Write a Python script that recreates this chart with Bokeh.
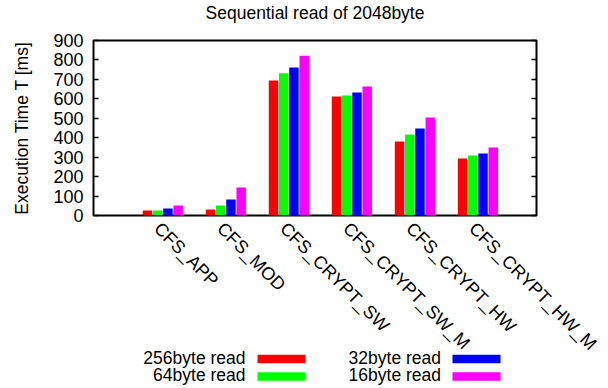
import math
from bokeh.plotting import figure
from bokeh.models import (Range1d, FixedTicker, LinearAxis, CustomJSTickFormatter,
                          ColumnDataSource)
from bokeh.core.properties import value
from bokeh.embed import file_html
from bokeh.resources import INLINE

# ---- data ----
categories = ["CFS_APP", "CFS_MOD", "CFS_CRYPT_SW", "CFS_CRYPT_SW_M", "CFS_CRYPT_HW", "CFS_CRYPT_HW_M"]
series_names = ["256byte read", "64byte read", "32byte read", "16byte read"]
read_256 = [26, 31, 694, 612, 381, 293]
read_64 = [26, 51, 732, 617, 417, 309]
read_32 = [36, 82, 761, 633, 447, 319]
read_16 = [51, 144, 822, 663, 504, 350]
series_values = [read_256, read_64, read_32, read_16]
colors = ["#ff0000", "#00ff00", "#0000ff", "#ff00ff"]
y_ticks = [0, 100, 200, 300, 400, 500, 600, 700, 800, 900]
title_text = "Sequential read of 2048byte"
y_label = "Execution Time T [ms]"

FONT = "Liberation Sans"
FS = "17.5px"
FS_TICK = "18px"
FS_CAT = "18px"

# ---- main chart (full canvas) ----
p = figure(width=608, height=388, output_backend="svg", toolbar_location=None,
           x_range=Range1d(-1.1, 5.93), y_range=Range1d(0, 900),
           min_border_left=93, min_border_right=72, min_border_top=40, min_border_bottom=173)
p.background_fill_color = "white"
p.border_fill_color = "white"
p.outline_line_color = "black"
p.outline_line_width = 2
p.xgrid.visible = False
p.ygrid.visible = False

step = 0.1625
bar_w = 0.15
for k, (vals, col) in enumerate(zip(series_values, colors)):
    off = (k - 1.5) * step
    src = ColumnDataSource(dict(x=[i + off for i in range(len(categories))], top=vals))
    p.vbar(x="x", top="top", bottom=0, width=bar_w, source=src,
           fill_color=col, line_color=None)

# x axis: category labels, rotated
xa = p.xaxis[0]
xa.ticker = FixedTicker(ticks=[round(i - 0.09, 3) for i in range(len(categories))])
xa.formatter = CustomJSTickFormatter(args=dict(cats=categories),
                                     code="return cats[Math.round(tick)]")
xa.major_label_orientation = -math.pi / 4
xa.major_tick_in = 0
xa.major_tick_out = 0
xa.minor_tick_line_color = None
xa.axis_line_color = None
xa.major_label_standoff = 10
xa.major_label_text_font = FONT
xa.major_label_text_font_size = FS_CAT
xa.major_label_text_color = "black"

# y axis
ya = p.yaxis[0]
ya.ticker = FixedTicker(ticks=y_ticks)
ya.major_tick_in = 5
ya.major_tick_out = 0
ya.major_tick_line_width = 1.5
ya.minor_tick_line_color = None
ya.axis_line_color = None
ya.major_label_standoff = 10
ya.major_label_text_font = FONT
ya.major_label_text_font_size = FS_TICK
ya.major_label_text_color = "black"
ya.axis_label = y_label
ya.axis_label_text_font = FONT
ya.axis_label_text_font_size = FS
ya.axis_label_text_font_style = "normal"
ya.axis_label_text_color = "black"
ya.axis_label_standoff = 18

# mirrored right ticks
ra = LinearAxis(ticker=FixedTicker(ticks=y_ticks),
                formatter=CustomJSTickFormatter(code="return ''"))
ra.major_tick_in = 5
ra.major_tick_out = 0
ra.major_tick_line_width = 1.5
ra.minor_tick_line_color = None
ra.axis_line_color = None
p.add_layout(ra, "right")


def overlay_panel(top, h):
    """Transparent pixel-unit panel laid over the chart at page offset `top`."""
    f = figure(width=608, height=h, output_backend="svg", toolbar_location=None,
               x_range=Range1d(0, 608), y_range=Range1d(top + h, top),
               x_axis_type=None, y_axis_type=None,
               min_border_left=0, min_border_right=0, min_border_top=0, min_border_bottom=0)
    f.outline_line_color = None
    f.xgrid.visible = False
    f.ygrid.visible = False
    f.background_fill_color = None
    f.border_fill_color = None
    f.styles = {"position": "absolute", "left": "0px", "top": f"{top}px"}
    return f


# ---- title ----
tf = overlay_panel(0, 30)
tf.text(x=[314.5], y=[12.5], text=[title_text], text_align="center", text_baseline="middle",
        text_font=value(FONT), text_font_size=FS, text_color="black")

# ---- legend (text left of swatch, two columns) ----
leg = overlay_panel(344, 44)
col_text_x = [245, 440.5]
col_sw_x = [257, 452]
row_mid_y = [357.2, 374.7]
row_sw_y = [(354.3, 362.7), (371.7, 380.3)]
for k, (name, col) in enumerate(zip(series_names, colors)):
    c = k // 2
    r = k % 2
    leg.text(x=[col_text_x[c]], y=[row_mid_y[r]], text=[name],
             text_align="right", text_baseline="middle",
             text_font=value(FONT), text_font_size=FS, text_color="black")
    leg.quad(left=[col_sw_x[c]], right=[col_sw_x[c] + 48],
             top=[row_sw_y[r][0]], bottom=[row_sw_y[r][1]],
             fill_color=col, line_color=None)

open("out.html", "w").write(file_html([p, tf, leg], INLINE))
